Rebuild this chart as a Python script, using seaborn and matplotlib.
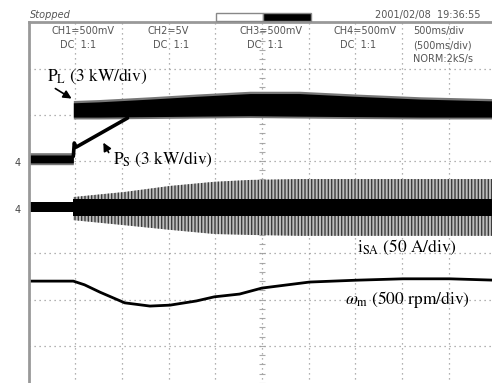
import matplotlib
matplotlib.use("Agg")
import matplotlib.pyplot as plt
from matplotlib.patches import Rectangle
import seaborn as sns
import numpy as np
import pandas as pd

# time in seconds (500 ms/div), levels in screen divisions from the bottom
pl_t = [0.0, 0.48, 0.48, 0.75, 1.3, 1.8, 2.37, 2.9, 3.5, 4.2, 5.0]
pl_top = [5.13, 5.13, 6.26, 6.28, 6.34, 6.40, 6.46, 6.46, 6.40, 6.34, 6.30]
pl_bot = [4.96, 4.96, 5.95, 5.95, 5.96, 5.97, 5.98, 5.97, 5.96, 5.95, 5.95]

ps_t = [0.48, 0.49, 0.51, 1.06]
ps_v = [5.10, 5.39, 5.30, 5.93]

isa_t = [0.0, 0.48, 0.48, 1.03, 1.515, 1.99, 2.37, 2.9, 5.0]
isa_top = [4.11, 4.11, 4.22, 4.33, 4.46, 4.55, 4.59, 4.61, 4.61]
isa_bot = [3.90, 3.90, 3.72, 3.61, 3.51, 3.42, 3.40, 3.38, 3.38]
isa_core_top = [4.11, 4.11, 4.18, 4.18, 4.18, 4.18, 4.18, 4.18, 4.18]
isa_core_bot = [3.90, 3.90, 3.81, 3.81, 3.81, 3.81, 3.81, 3.81, 3.81]

wm_t = [0.0, 0.48, 0.6, 0.766, 1.03, 1.3, 1.515, 1.796, 1.99, 2.26, 2.5, 3.01, 3.51, 4.01, 4.51, 5.0]
wm_v = [2.40, 2.40, 2.32, 2.16, 1.93, 1.86, 1.88, 1.97, 2.06, 2.12, 2.25, 2.38, 2.42, 2.45, 2.45, 2.42]

channels = ["CH1=500mV", "CH2=5V", "CH3=500mV", "CH4=500mV"]
channel_x = [52, 147, 240, 333]
coupling_x = [60, 153, 247, 340]
timebase = ["500ms/div", "(500ms/div)", "NORM:2kS/s"]

sns.set_style("white")
plt.rcParams["mathtext.fontset"] = "stix"

W, H = 492, 383
fig = plt.figure(figsize=(W / 100, H / 100), dpi=100)
ax = fig.add_axes([28.5 / W, -9 / H, 467 / W, 369.6 / H])
ax.set_xlim(0, 5)
ax.set_ylim(0, 8)

# graticule
ax.set_xticks(np.arange(0, 5.01, 0.5))
ax.set_yticks(np.arange(0, 8.01, 1))
ax.grid(True, linestyle=(0, (1, 3)), color="#999999", lw=0.9)
ax.tick_params(length=0, labelbottom=False, labelleft=False)
for s in ["right", "bottom"]:
    ax.spines[s].set_visible(False)
for s in ["left", "top"]:
    ax.spines[s].set_color("#999999")
    ax.spines[s].set_linewidth(2)
ax.plot(np.full(41, 2.5), np.arange(0, 8.01, 0.2), ls="none", marker="_",
        ms=4, color="#aaaaaa", mew=0.8, zorder=0.5)
ax.plot(np.arange(0, 5.01, 0.1), np.full(51, 4.0), ls="none", marker="|",
        ms=4, color="#aaaaaa", mew=0.8, zorder=0.5)

# P_L band (with a soft fringe) and P_S
ax.fill_between(pl_t, np.array(pl_bot) - 0.04, np.array(pl_top) + 0.05,
                color="#777777", lw=0, zorder=1)
ax.fill_between(pl_t, pl_bot, pl_top, color="black", lw=0, zorder=1.1)
ps = pd.DataFrame({"t": ps_t, "v": ps_v})
sns.lineplot(data=ps, x="t", y="v", ax=ax, color="black", lw=2.6,
             estimator=None, sort=False)

# i_SA envelope
ax.fill_between(isa_t, isa_bot, isa_top, facecolor="#bdbdbd", edgecolor="#3c3c3c",
                hatch="|||||", lw=0)
ax.fill_between(isa_t, isa_core_bot, isa_core_top, color="black", lw=0)

# omega_m
wm = pd.DataFrame({"t": wm_t, "v": wm_v})
sns.lineplot(data=wm, x="t", y="v", ax=ax, color="black", lw=2.0,
             estimator=None, sort=False)
ax.set_xlabel("")
ax.set_ylabel("")

# labels
lab = dict(fontsize=12.5, family="STIXGeneral", color="black", va="center")
ax.text(0.198, 6.82, r"P$_\mathrm{L}$ (3 kW/div)", **lab)
ax.text(0.905, 5.04, r"P$_\mathrm{S}$ (3 kW/div)", **lab)
ax.text(3.517, 3.14, r"i$_\mathrm{SA}$ (50 A/div)", **lab)
ax.text(3.389, 2.01, r"$\omega_\mathrm{m}$ (500 rpm/div)", **lab)
arr = dict(arrowstyle="-|>", color="black", lw=1.2, mutation_scale=12)
ax.annotate("", xy=(0.487, 6.32), xytext=(0.262, 6.60), arrowprops=arr)
ax.annotate("", xy=(0.787, 5.45), xytext=(0.873, 5.13), arrowprops=arr)

# ground markers
for v in [4.96, 3.95]:
    ax.text(-0.112, v, "4", fontsize=7, color="#444444", ha="center",
            va="center", clip_on=False)

# scope header
hc = "#555555"
def ftext(x, y, s, **kw):
    fig.text(x / W, 1 - y / H, s, color=hc, va="center", ha="left", **kw)

ftext(30, 15, "Stopped", fontsize=7, style="italic")
ftext(375, 15, "2001/02/08  19:36:55", fontsize=7)
fig.patches.append(Rectangle((216 / W, 1 - 21 / H), 47 / W, 8 / H, transform=fig.transFigure,
                             facecolor="white", edgecolor="#888888", lw=1))
fig.patches.append(Rectangle((263 / W, 1 - 21 / H), 48 / W, 8 / H, transform=fig.transFigure,
                             facecolor="black", edgecolor="#888888", lw=1))
for name, x1, x2 in zip(channels, channel_x, coupling_x):
    ftext(x1, 31, name, fontsize=7)
    ftext(x2, 45, "DC  1:1", fontsize=7)
for i, s in enumerate(timebase):
    ftext(413, 31 + 14 * i, s, fontsize=7)

fig.savefig("out.png", dpi=100)
